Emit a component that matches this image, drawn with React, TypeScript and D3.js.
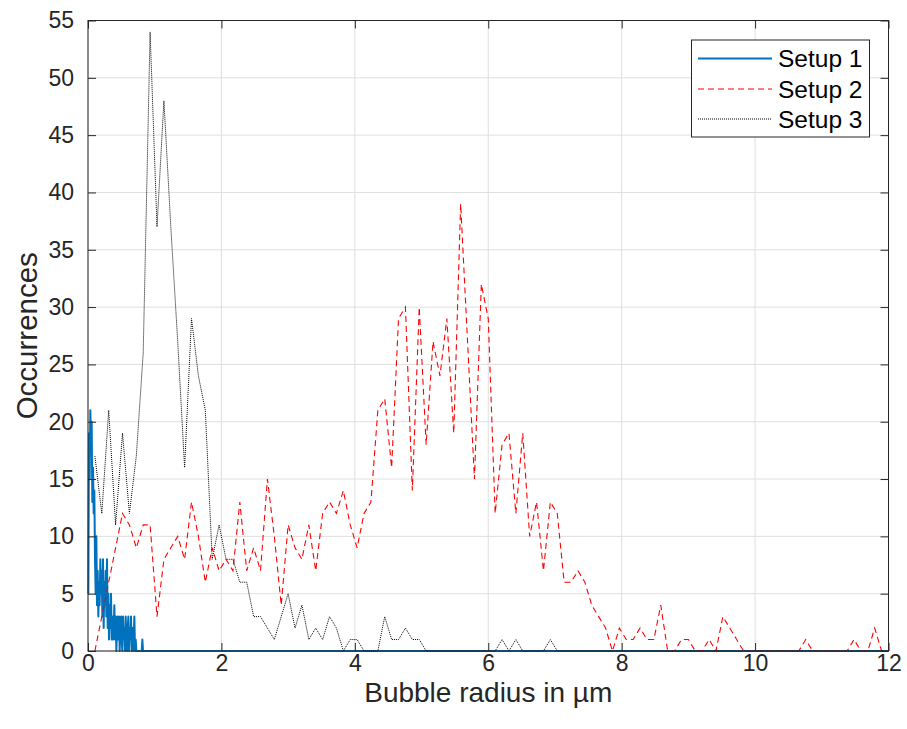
import React, { useEffect, useRef } from "react";
import * as d3 from "d3";

const WIDTH = 907;
const HEIGHT = 729;

const xTicks = [0, 2, 4, 6, 8, 10, 12];
const yTicks = [0, 5, 10, 15, 20, 25, 30, 35, 40, 45, 50, 55];
const seriesNames = ["Setup 1", "Setup 2", "Setup 3"];

// Setup 1: fine bins (0.01 µm) near zero, then a flat zero out to 12 µm
const setup1Count = [
  5, 19, 15, 21, 18, 20, 13, 16, 12, 14, 8, 5, 10, 4, 7, 3, 6, 4, 8, 5,
  7, 3, 8, 2, 6, 4, 7, 3, 8, 2, 5, 1, 4, 2, 5, 1, 3, 1, 2, 4,
  1, 3, 0, 2, 3, 1, 3, 0, 2, 3, 1, 0, 3, 1, 2, 0, 3, 1, 0, 2,
  3, 0, 2, 1, 3, 0, 2, 0, 1, 3, 0, 1, 0, 0, 0, 0, 0, 0, 0, 0,
  0, 1, 0, 0,
];
const setup1Radius = setup1Count.map((_, i) => 0.005 + i * 0.01);
const setup1TailRadius = 12;

// Setup 2 and 3 share one grid of 116 bins across 0-12 µm
const binCount = 116;
const binRadius = d3.range(1, binCount + 1).map((i) => (i * 12) / binCount);

const setup2Count = [
  0, 3, 6, 9, 12, 11, 9, 11, 11, 3,
  8, 9, 10, 8, 13, 10, 6, 9, 7, 8,
  7, 13, 7, 9, 7, 15, 10, 4, 11, 9,
  8, 11, 7, 12, 13, 12, 14, 11, 9, 12,
  13, 21, 22, 16, 29, 30, 14, 30, 18, 27,
  24, 29, 19, 39, 27, 15, 32, 29, 12, 18,
  19, 12, 19, 10, 13, 7, 13, 12, 6, 6,
  7, 6, 4, 3, 2, 0, 2, 1, 1, 2,
  1, 1, 4, 0, 0, 1, 1, 0, 0, 1,
  0, 3, 2, 1, 0, 0, 0, 0, 0, 0,
  0, 0, 0, 1, 0, 0, 0, 0, 0, 0,
  1, 0, 0, 2, 0, 0,
];

const setup3Count = [
  17, 12, 21, 11, 19, 12, 17, 26, 54, 37,
  48, 37, 27, 16, 29, 24, 21, 8, 11, 8,
  8, 6, 6, 3, 3, 2, 1, 3, 5, 2,
  4, 1, 2, 1, 3, 2, 0, 1, 1, 0,
  0, 0, 3, 1, 1, 2, 1, 1, 0, 0,
  0, 0, 0, 0, 0, 0, 0, 0, 0, 1,
  0, 1, 0, 0, 0, 0, 1, 0, 0, 0,
  0, 0, 0, 0, 0, 0, 0, 0, 0, 0,
  0, 0, 0, 0, 0, 0, 0, 0, 0, 0,
  0, 0, 0, 0, 0, 0, 0, 0, 0, 0,
  0, 0, 0, 0, 0, 0, 0, 0, 0, 0,
  0, 0, 0, 0, 0, 0,
];

const FONT = "'Liberation Sans', Arial, Helvetica, sans-serif";
const AXIS_COLOR = "#262626";

export default function App() {
  const ref = useRef<SVGSVGElement>(null);

  useEffect(() => {
    const svg = d3.select(ref.current);
    svg.selectAll("*").remove();

    const left = 88;
    const right = 888.5;
    const top = 20.5;
    const bottom = 651;

    const x = d3.scaleLinear().domain([0, 12]).range([left, right]);
    const y = d3.scaleLinear().domain([0, 55]).range([bottom, top]);

    svg.append("rect").attr("width", WIDTH).attr("height", HEIGHT).attr("fill", "#fff");

    // GRID
    const grid = svg.append("g").attr("stroke", "#dfdfdf").attr("stroke-width", 1);
    grid.selectAll("line.v")
      .data(xTicks)
      .enter()
      .append("line")
      .attr("x1", (d) => x(d))
      .attr("x2", (d) => x(d))
      .attr("y1", top)
      .attr("y2", bottom);
    grid.selectAll("line.h")
      .data(yTicks)
      .enter()
      .append("line")
      .attr("x1", left)
      .attr("x2", right)
      .attr("y1", (d) => y(d))
      .attr("y2", (d) => y(d));

    // LINES
    const line = d3.line<[number, number]>()
      .x((d) => x(d[0]))
      .y((d) => y(d[1]));

    const s1: [number, number][] = setup1Radius.map((r, i) => [r, setup1Count[i]]);
    s1.push([setup1TailRadius, 0]);
    const s2: [number, number][] = binRadius.map((r, i) => [r, setup2Count[i]]);
    const s3: [number, number][] = binRadius.map((r, i) => [r, setup3Count[i]]);

    svg.append("path")
      .attr("d", line(s1))
      .attr("fill", "none")
      .attr("stroke", "#0072BD")
      .attr("stroke-width", 2)
      .attr("stroke-linejoin", "round");

    svg.append("path")
      .attr("d", line(s2))
      .attr("fill", "none")
      .attr("stroke", "#FF0000")
      .attr("stroke-width", 1.1)
      .attr("stroke-dasharray", "6,4");

    svg.append("path")
      .attr("d", line(s3))
      .attr("fill", "none")
      .attr("stroke", "#000")
      .attr("stroke-width", 1)
      .attr("stroke-dasharray", "1,1");

    // AXES
    const styleAxis = (g: any) => {
      g.select(".domain").remove();
      g.selectAll("line").attr("stroke", AXIS_COLOR).attr("stroke-width", 1);
      g.selectAll("text")
        .attr("fill", AXIS_COLOR)
        .attr("font-family", FONT)
        .attr("font-size", 23);
    };

    svg.append("g")
      .attr("transform", `translate(0,${bottom})`)
      .call(d3.axisBottom(x).tickValues(xTicks).tickSizeInner(-8).tickSizeOuter(0).tickPadding(4))
      .call(styleAxis);

    svg.append("g")
      .attr("transform", `translate(0,${top})`)
      .call(d3.axisTop(x).tickValues(xTicks).tickSizeInner(-8).tickSizeOuter(0).tickFormat(() => ""))
      .call(styleAxis);

    svg.append("g")
      .attr("transform", `translate(${left},0)`)
      .call(d3.axisLeft(y).tickValues(yTicks).tickSizeInner(-8).tickSizeOuter(0).tickPadding(14))
      .call(styleAxis);

    svg.append("g")
      .attr("transform", `translate(${right},0)`)
      .call(d3.axisRight(y).tickValues(yTicks).tickSizeInner(-8).tickSizeOuter(0).tickFormat(() => ""))
      .call(styleAxis);

    svg.append("rect")
      .attr("x", left)
      .attr("y", top)
      .attr("width", right - left)
      .attr("height", bottom - top)
      .attr("fill", "none")
      .attr("stroke", AXIS_COLOR)
      .attr("stroke-width", 1);

    // Axis labels
    svg.append("text")
      .attr("x", (left + right) / 2)
      .attr("y", 702)
      .attr("text-anchor", "middle")
      .attr("font-family", FONT)
      .attr("font-size", 28)
      .attr("fill", AXIS_COLOR)
      .text("Bubble radius in µm");

    svg.append("text")
      .attr("transform", `translate(37,${(top + bottom) / 2}) rotate(-90)`)
      .attr("text-anchor", "middle")
      .attr("font-family", FONT)
      .attr("font-size", 29.5)
      .attr("fill", AXIS_COLOR)
      .text("Occurrences");

    // LEGEND
    const legend = svg.append("g");
    legend.append("rect")
      .attr("x", 691.5)
      .attr("y", 40)
      .attr("width", 178)
      .attr("height", 97)
      .attr("fill", "#fff")
      .attr("stroke", AXIS_COLOR)
      .attr("stroke-width", 1);

    const legendStyles = [
      { stroke: "#0072BD", width: 2, dash: null },
      { stroke: "#FF0000", width: 1.1, dash: "6,4" },
      { stroke: "#000", width: 1, dash: "1,1" },
    ];
    const legendRows = [58.5, 89, 119];

    seriesNames.forEach((name, i) => {
      const st = legendStyles[i];
      legend.append("line")
        .attr("x1", 698)
        .attr("x2", 772)
        .attr("y1", legendRows[i])
        .attr("y2", legendRows[i])
        .attr("stroke", st.stroke)
        .attr("stroke-width", st.width)
        .attr("stroke-dasharray", st.dash);
      legend.append("text")
        .attr("x", 778)
        .attr("y", legendRows[i])
        .attr("dy", "0.35em")
        .attr("font-family", FONT)
        .attr("font-size", 24.5)
        .attr("fill", "#000")
        .text(name);
    });
  }, []);

  return (
    <svg
      ref={ref}
      width={WIDTH}
      height={HEIGHT}
      style={{ position: "absolute", left: 0, top: 0, display: "block" }}
    />
  );
}
